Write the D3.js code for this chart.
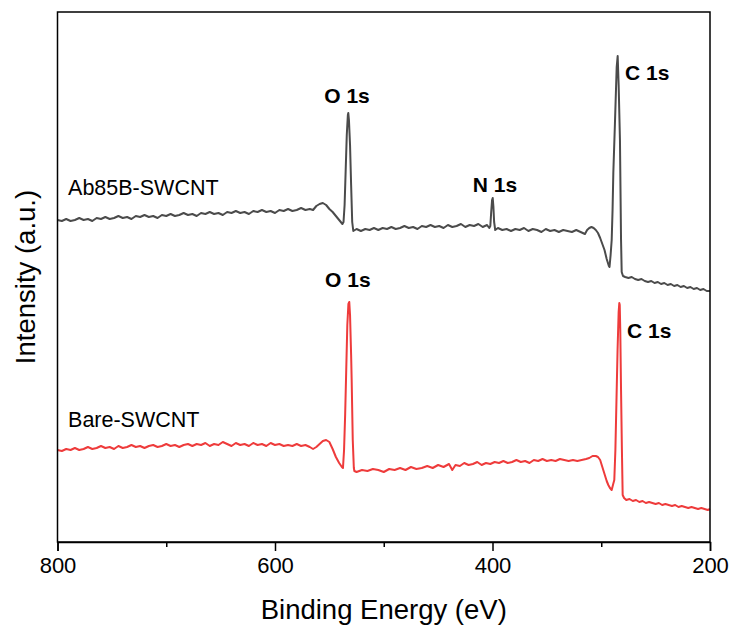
<!DOCTYPE html>
<html>
<head>
<meta charset="utf-8">
<script src="https://cdn.jsdelivr.net/npm/d3@7"></script>
<style>
  html, body { margin: 0; padding: 0; background: #fff; }
  svg { display: block; font-family: "Liberation Sans", Arial, Helvetica, sans-serif; }
</style>
</head>
<body>
<svg id="chart" width="731" height="627"></svg>
<script>
// ---- data (binding energy in eV, intensity in a.u.) ----
const abEnergy = [800,796,792,788,784,780,776,772,768,764,760,756,752,748,744,740,736,732,728,724,720,716,712,708,704,700,696,692,688,684,680,676,672,668,664,660,656,652,648,644,640,636,632,628,624,620,616,612,608,604,600,596,592,588,584,580,576,572,568,565,562,559,556,553,550,547,544,541,538,537,536,535,534,533,532.6,532,531,530,529,528,525,521,517,513,509,505,501,497,493,489,485,481,477,473,469,465,461,457,453,449,445,441,437,433,429,425,421,417,413,409,405,403,402,401.2,400.4,399.8,399.2,398.5,397.5,395,391,387,383,379,375,371,367,363,359,355,351,347,343,339,335,331,327,323,319,315,313,311,309,307,305,303,301,299,297,295,293,292.4,291.4,290.4,289.6,288.9,287.4,285.8,284.9,284,282.8,281.8,281.2,280,278,275,272,269,266,263,260,257,254,251,248,245,242,239,236,233,230,227,224,221,218,215,212,209,206,203,200];
const abIntensity = [322,321,323,321,322,324,322,323,321,324,323,325,323,324,326,324,325,323,326,325,327,325,326,324,327,326,328,326,327,329,327,328,326,329,328,330,328,329,327,330,329,331,329,330,328,331,330,332,330,331,329,332,331,333,331,332,334,332,333,332,336,338,339,337,333,330,326,322,318,320,337,372,407,427,429,422,397,357,320,311,313,311,313,312,314,312,314,313,315,313,314,316,314,315,313,316,315,317,315,316,314,317,315,316,318,315,317,316,318,315,317,314,316,330,342,344,336,320,312,314,312,313,311,313,312,314,311,313,312,310,313,311,312,310,312,311,310,312,310,308,312,314,315,314,312,309,304,298,292,283,276,275,287,302,332,369,419,475,486,457,402,302,270,266,265,264,265,263,262,263,261,260,261,259,260,258,259,257,258,256,257,255,256,254,255,253,254,252,253,251,251];

const bareEnergy = [800,796,792,788,784,780,776,772,768,764,760,756,752,748,744,740,736,732,728,724,720,716,712,708,704,700,696,692,688,684,680,676,672,668,664,660,656,652,648,644,640,636,632,628,624,620,616,612,608,604,600,596,592,588,584,580,576,572,568,565,562,559,556,553,550,547,544,541,538.5,537.5,536.5,535.5,534.5,533.5,532.5,531.7,531,530,529.5,528.5,527.5,527,525,520,515,510,505,500,495,490,485,480,475,470,465,460,455,450,445,440,437,434,430,426,422,418,414,410,406,402,398,394,390,386,382,378,374,370,366,362,358,354,350,346,342,338,334,330,326,322,318,314,311,308,305,303,301,299,297,295,293.5,292,290.4,289,288,287,286,285,284,283.4,283,282.5,281.8,281,280.3,279,277,274,271,268,265,262,259,256,253,250,247,244,241,238,235,232,229,226,223,220,217,214,211,208,205,202,200];
const bareIntensity = [92,91,93,92,94,92,93,95,93,94,96,94,95,93,96,94,95,97,95,96,94,96,97,95,96,98,96,97,95,97,98,96,98,97,99,96,98,97,100,98,96,99,97,98,96,99,97,98,96,99,97,98,96,97,96,98,96,97,95,93,95,98,101,102,100,93,85,79,75,74,92,127,172,217,238,240,227,187,162,102,74,71,70,72,71,73,72,70,73,72,74,72,75,73,74,76,74,77,75,78,72,77,76,79,77,78,80,77,79,78,80,79,81,79,80,82,80,81,79,82,81,83,81,82,81,83,82,81,82,81,82,83,84,86,86,85,82,75,68,61,57,54,52,58,62,92,142,192,230,239,237,212,152,92,47,44,42,43,41,42,40,41,39,40,39,38,39,37,38,37,36,37,35,36,35,34,35,34,33,34,33,32,33];

const seriesNames = ["Ab85B-SWCNT", "Bare-SWCNT"];
const seriesColors = ["#4b4b4b", "#ee3b3b"];

// label anchors (energy in eV, intensity in a.u.)
const peakLabels = ["O 1s", "N 1s", "C 1s", "O 1s", "C 1s"];
const peakLabelEnergy = [533.8, 397.7, 278.2, 533.0, 276.3];
const peakLabelIntensity = [439, 350, 462, 255, 204];
const peakLabelAnchor = ["middle", "middle", "start", "middle", "start"];
const nameLabelEnergy = [790.3, 790.3];
const nameLabelIntensity = [347, 115];

const xTicks = [800, 600, 400, 200];
const xMinorTicks = [700, 500, 300];

// ---- layout ----
const svg = d3.select("#chart");
const margin = { left: 57.5, top: 12, right: 21, bottom: 85 };
const W = 652.5, H = 530;
const g = svg.append("g").attr("transform", `translate(${margin.left},${margin.top})`);

const x = d3.scaleLinear().domain([800, 200]).range([0, W]);
const y = d3.scaleLinear().domain([0, 530]).range([H, 0]);

// lines
const line = d3.line().x(d => x(d[0])).y(d => y(d[1]));
const series = [
  d3.zip(abEnergy, abIntensity),
  d3.zip(bareEnergy, bareIntensity)
];
series.forEach((s, i) => {
  g.append("path").datum(s)
    .attr("d", line)
    .attr("fill", "none")
    .attr("stroke", seriesColors[i])
    .attr("stroke-width", 2)
    .attr("stroke-linejoin", "round");
});

// frame
g.append("rect").attr("x", 0).attr("y", 0).attr("width", W).attr("height", H)
  .attr("fill", "none").attr("stroke", "#000").attr("stroke-width", 1.5);

// x axis
const xAxis = g.append("g").attr("transform", `translate(0,${H})`)
  .call(d3.axisBottom(x).tickValues(xTicks).tickSize(9).tickPadding(6).tickFormat(d3.format("d")));
xAxis.select(".domain").attr("stroke-width", 1.5);
xAxis.selectAll(".tick line").attr("stroke-width", 1.5);
xAxis.selectAll("text").attr("font-size", 22).attr("fill", "#000")
  .attr("font-family", "'Liberation Sans', Arial, sans-serif");
const xMinor = g.append("g").attr("transform", `translate(0,${H})`)
  .call(d3.axisBottom(x).tickValues(xMinorTicks).tickSize(5).tickFormat(""));
xMinor.select(".domain").remove();
xMinor.selectAll(".tick line").attr("stroke-width", 1.5);

// axis titles
svg.append("text").attr("x", margin.left + W / 2).attr("y", 619)
  .attr("text-anchor", "middle").attr("font-size", 27.5).attr("fill", "#000")
  .text("Binding Energy (eV)");
svg.append("text").attr("transform", `translate(35,${margin.top + H / 2}) rotate(-90)`)
  .attr("text-anchor", "middle").attr("font-size", 27.5).attr("fill", "#000")
  .text("Intensity (a.u.)");

// peak labels
peakLabels.forEach((t, i) => {
  g.append("text").attr("x", x(peakLabelEnergy[i])).attr("y", y(peakLabelIntensity[i]))
    .attr("text-anchor", peakLabelAnchor[i]).attr("font-size", 21).attr("font-weight", "bold")
    .attr("fill", "#000").text(t);
});
// series labels
seriesNames.forEach((t, i) => {
  g.append("text").attr("x", x(nameLabelEnergy[i])).attr("y", y(nameLabelIntensity[i]))
    .attr("font-size", 21.5).attr("fill", "#000").text(t);
});
</script>
</body>
</html>
